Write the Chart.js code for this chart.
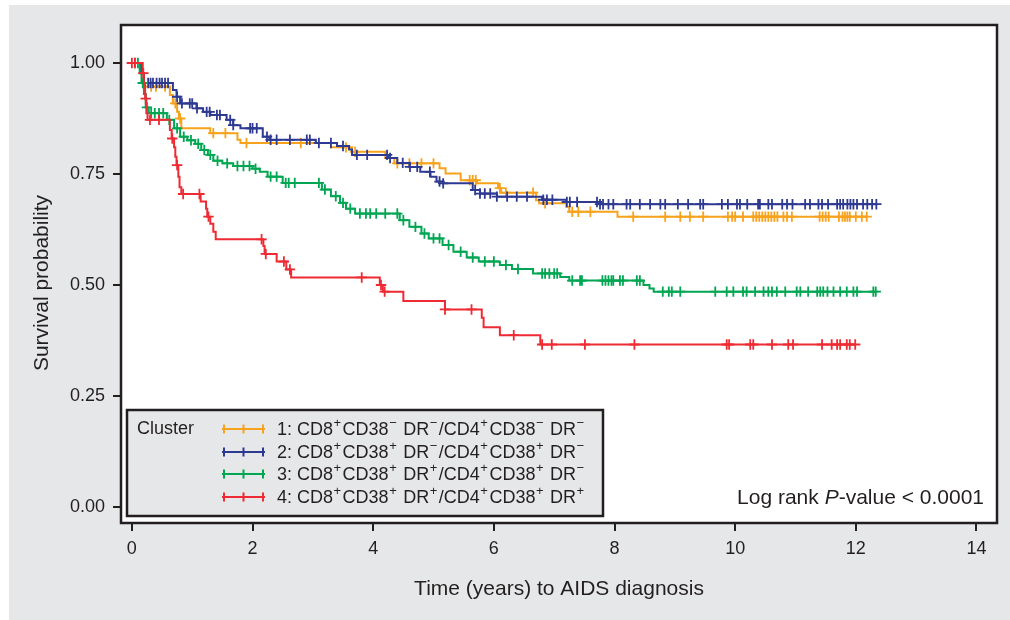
<!DOCTYPE html>
<html>
<head>
<meta charset="utf-8">
<title>Survival by cluster</title>
<script src="https://cdn.jsdelivr.net/npm/chart.js"></script>
<style>
  html, body { margin: 0; padding: 0; background: #ffffff; }
  canvas { display: block; }
</style>
</head>
<body>
<canvas id="myChart" width="1010" height="620"></canvas>
<script>
// Trục và nhãn
const xTicks = [0, 2, 4, 6, 8, 10, 12, 14];
const yTicks = [0, 0.25, 0.5, 0.75, 1.0];
const xTitle = "Time (years) to AIDS diagnosis";
const yTitle = "Survival probability";
const clusterLabels = [
  "1: CD8^+CD38^\u2212 DR^\u2212/CD4^+CD38^\u2212 DR^\u2212",
  "2: CD8^+CD38^+ DR^\u2212/CD4^+CD38^+ DR^\u2212",
  "3: CD8^+CD38^+ DR^+/CD4^+CD38^+ DR^\u2212",
  "4: CD8^+CD38^+ DR^+/CD4^+CD38^+ DR^+",
];
const clusterColors = ["#F7A21C", "#2E3A92", "#00A651", "#EE2A33"];

// Cluster 1 (cam)
const orangeTimes = [0.14, 0.20, 0.28, 0.63, 0.68, 0.75, 0.78, 0.82, 1.30, 1.75, 1.80, 3.30, 3.65, 4.20, 4.35, 5.10, 5.20, 5.45, 5.72, 6.07, 6.12, 6.70, 6.75, 7.20, 7.25, 8.05];
const orangeSurv = [0.977, 0.955, 0.947, 0.928, 0.909, 0.89, 0.875, 0.853, 0.842, 0.827, 0.82, 0.81, 0.80, 0.786, 0.774, 0.763, 0.751, 0.736, 0.729, 0.718, 0.708, 0.691, 0.684, 0.676, 0.665, 0.654];
const orangeCens = [0.32, 0.4, 0.55, 0.72, 0.8, 1.35, 1.55, 1.9, 2.8, 3.55, 3.7, 4.4, 4.6, 4.8, 5.0, 5.6, 5.65, 5.7, 6.1, 6.2, 6.65, 6.85, 7.3, 7.4, 7.6, 8.31, 8.84, 9.09, 9.25, 9.47, 9.88, 9.95, 10.0, 10.13, 10.3, 10.35, 10.4, 10.45, 10.5, 10.55, 10.6, 10.65, 10.7, 10.8, 10.86, 10.94, 11.4, 11.45, 11.5, 11.55, 11.72, 11.78, 11.82, 11.86, 11.9, 12.0, 12.1, 12.18];

// Cluster 2 (xanh dương)
const blueTimes = [0.15, 0.20, 0.68, 0.74, 0.80, 1.07, 1.18, 1.30, 1.57, 1.68, 1.80, 2.17, 2.28, 3.05, 3.40, 3.60, 3.65, 4.25, 4.40, 4.60, 4.78, 4.95, 5.05, 5.15, 5.65, 5.77, 6.05, 6.80, 7.20, 7.75];
const blueSurv = [0.977, 0.955, 0.939, 0.924, 0.909, 0.898, 0.89, 0.883, 0.872, 0.86, 0.853, 0.834, 0.827, 0.82, 0.813, 0.805, 0.793, 0.786, 0.775, 0.766, 0.755, 0.744, 0.733, 0.729, 0.714, 0.706, 0.699, 0.692, 0.687, 0.682];
const blueCens = [0.27, 0.31, 0.35, 0.41, 0.46, 0.5, 0.55, 0.6, 0.75, 0.83, 0.96, 1.0, 1.08, 1.24, 1.29, 1.41, 1.46, 1.63, 1.68, 1.96, 2.0, 2.07, 2.24, 2.3, 2.4, 2.62, 2.9, 2.95, 3.1, 3.3, 3.5, 3.73, 3.9, 4.23, 4.28, 4.49, 4.61, 4.73, 4.94, 5.1, 5.16, 5.69, 5.77, 5.85, 5.94, 6.05, 6.22, 6.38, 6.55, 6.82, 6.88, 6.97, 7.21, 7.26, 7.38, 7.71, 7.76, 7.81, 7.9, 7.98, 8.2, 8.26, 8.42, 8.59, 8.76, 8.84, 9.05, 9.22, 9.42, 9.47, 9.78, 9.88, 10.03, 10.08, 10.2, 10.38, 10.41, 10.55, 10.61, 10.78, 10.86, 10.95, 11.16, 11.24, 11.38, 11.44, 11.54, 11.69, 11.74, 11.79, 11.86, 11.91, 11.96, 12.02, 12.12, 12.19, 12.27, 12.34];

// Cluster 3 (xanh lá)
const greenTimes = [0.13, 0.16, 0.20, 0.23, 0.28, 0.58, 0.70, 0.80, 0.92, 1.05, 1.15, 1.26, 1.35, 1.50, 1.68, 2.00, 2.12, 2.25, 2.50, 3.15, 3.30, 3.45, 3.55, 3.70, 4.44, 4.60, 4.80, 4.92, 5.15, 5.33, 5.55, 5.75, 6.10, 6.30, 6.65, 7.10, 7.25, 8.48, 8.58, 8.65];
const greenSurv = [0.977, 0.955, 0.93, 0.90, 0.887, 0.872, 0.853, 0.834, 0.826, 0.818, 0.804, 0.793, 0.78, 0.774, 0.768, 0.762, 0.755, 0.744, 0.73, 0.715, 0.70, 0.685, 0.672, 0.661, 0.646, 0.631, 0.616, 0.605, 0.59, 0.575, 0.562, 0.553, 0.545, 0.536, 0.526, 0.518, 0.51, 0.50, 0.492, 0.485];
const greenCens = [0.05, 0.1, 0.18, 0.25, 0.32, 0.38, 0.45, 0.52, 0.62, 0.75, 0.86, 0.98, 1.1, 1.2, 1.3, 1.42, 1.58, 1.75, 1.85, 1.95, 2.05, 2.3, 2.4, 2.55, 2.6, 2.7, 3.1, 3.2, 3.38, 3.5, 3.62, 3.78, 3.88, 3.95, 4.05, 4.2, 4.4, 4.5, 4.7, 4.85, 5.0, 5.1, 5.25, 5.45, 5.65, 5.85, 6.0, 6.2, 6.4, 6.8, 6.85, 6.92, 7.0, 7.05, 7.3, 7.43, 7.46, 7.8, 7.85, 7.9, 7.95, 7.98, 8.09, 8.14, 8.37, 8.42, 8.8, 8.9, 8.95, 9.09, 9.67, 9.86, 9.97, 10.13, 10.19, 10.33, 10.47, 10.55, 10.61, 10.69, 10.83, 11.02, 11.08, 11.21, 11.36, 11.41, 11.46, 11.53, 11.63, 11.74, 11.85, 11.96, 12.02, 12.29, 12.33];

// Cluster 4 (đỏ)
const redTimes = [0.18, 0.20, 0.22, 0.24, 0.26, 0.63, 0.66, 0.70, 0.72, 0.74, 0.77, 0.79, 0.82, 1.14, 1.23, 1.25, 1.30, 1.35, 1.39, 2.18, 2.20, 2.40, 2.56, 2.64, 4.11, 4.16, 4.50, 5.19, 5.80, 5.83, 6.10, 6.77];
const redSurv = [0.977, 0.955, 0.92, 0.887, 0.872, 0.849, 0.83, 0.81, 0.789, 0.77, 0.744, 0.72, 0.705, 0.688, 0.672, 0.654, 0.638, 0.62, 0.603, 0.588, 0.57, 0.553, 0.535, 0.517, 0.5, 0.485, 0.464, 0.445, 0.426, 0.405, 0.387, 0.366];
const redCens = [0.0, 0.05, 0.19, 0.23, 0.3, 0.45, 0.67, 0.75, 0.85, 1.12, 1.27, 2.15, 2.22, 2.52, 2.62, 3.81, 4.13, 4.19, 5.19, 5.63, 6.33, 6.8, 6.96, 7.51, 8.33, 9.86, 9.9, 10.25, 10.3, 10.61, 10.88, 10.96, 11.44, 11.6, 11.69, 11.74, 11.85, 11.9, 11.99];

const FONT = '"Liberation Sans", Arial, Helvetica, sans-serif';
const INK = "#231f20";
const PANEL = "#e6e7e8";

// Ghép sự kiện + điểm kiểm duyệt thành một đường bậc thang Kaplan-Meier
function kmPoints(times, surv, cens) {
  const pts = [{ x: 0, y: 1, c: false }];
  times.forEach((t, i) => pts.push({ x: t, y: surv[i], c: false }));
  cens.forEach((t) => {
    let s = 1;
    times.forEach((et, i) => { if (et <= t) s = surv[i]; });
    pts.push({ x: t, y: s, c: true });
  });
  pts.sort((a, b) => a.x - b.x || (a.c ? 1 : -1));
  return pts;
}

function kmDataset(label, color, times, surv, cens) {
  return {
    label: label,
    data: kmPoints(times, surv, cens),
    stepped: "before",
    borderColor: color,
    backgroundColor: color,
    borderWidth: 2,
    pointStyle: "cross",
    pointRadius: (ctx) => (ctx.raw && ctx.raw.c ? 5.2 : 0),
    pointBorderWidth: 1.8,
    pointHoverRadius: 0,
    fill: false,
  };
}

// Vẽ chữ có chỉ số trên (^x)
function drawRich(ctx, text, x, y, size) {
  let cx = x;
  for (let i = 0; i < text.length; i++) {
    const ch = text[i];
    if (ch === "^") {
      const sup = text[++i];
      ctx.font = Math.round(size * 0.7) + "px " + FONT;
      ctx.fillText(sup, cx + 0.5, y - size * 0.38);
      cx += ctx.measureText(sup).width + 2;
    } else {
      ctx.font = size + "px " + FONT;
      ctx.fillText(ch, cx, y);
      cx += ctx.measureText(ch).width;
    }
  }
}

const decor = {
  id: "decor",
  beforeDraw(chart) {
    const ctx = chart.ctx;
    const a = chart.chartArea;
    ctx.save();
    ctx.fillStyle = "#ffffff";
    ctx.fillRect(0, 0, chart.width, chart.height);
    ctx.fillStyle = PANEL;
    ctx.fillRect(9, 5, chart.width - 9, chart.height - 5);
    ctx.fillStyle = "#ffffff";
    ctx.fillRect(a.left, a.top, a.right - a.left, a.bottom - a.top);
    ctx.restore();
  },
  afterDatasetsDraw(chart) {
    const ctx = chart.ctx;
    const a = chart.chartArea;
    ctx.save();
    // khung biểu đồ
    ctx.strokeStyle = INK;
    ctx.lineWidth = 2.5;
    ctx.strokeRect(a.left, a.top, a.right - a.left, a.bottom - a.top);

    // tiêu đề trục tung
    ctx.fillStyle = INK;
    ctx.font = "21px " + FONT;
    ctx.textAlign = "center";
    ctx.textBaseline = "middle";
    ctx.translate(42, 283);
    ctx.rotate(-Math.PI / 2);
    ctx.fillText(yTitle, 0, 0);
    ctx.setTransform(1, 0, 0, 1, 0, 0);

    // chú thích
    const lx = 127, ly = 410, lw = 476, lh = 106;
    ctx.fillStyle = PANEL;
    ctx.fillRect(lx, ly, lw, lh);
    ctx.lineWidth = 2.5;
    ctx.strokeRect(lx, ly, lw, lh);
    ctx.fillStyle = INK;
    ctx.textBaseline = "middle";
    ctx.textAlign = "left";
    ctx.font = "18px " + FONT;
    ctx.fillText("Cluster", 137, 429);
    const rows = [429, 452, 474, 497];
    clusterLabels.forEach((lab, i) => {
      const y = rows[i];
      ctx.strokeStyle = clusterColors[i];
      ctx.lineWidth = 2;
      ctx.beginPath();
      ctx.moveTo(222, y);
      ctx.lineTo(265, y);
      [224, 243.5, 263].forEach((tx) => {
        ctx.moveTo(tx, y - 4.5);
        ctx.lineTo(tx, y + 4.5);
      });
      ctx.stroke();
      ctx.fillStyle = INK;
      drawRich(ctx, lab, 277, y + 1, 18);
    });

    // log rank
    const size = 21;
    ctx.font = size + "px " + FONT;
    const p1 = "Log rank ", p3 = "-value < 0.0001";
    const w1 = ctx.measureText(p1).width, w3 = ctx.measureText(p3).width;
    ctx.font = "italic " + size + "px " + FONT;
    const w2 = ctx.measureText("P").width;
    const x0 = 984 - (w1 + w2 + w3);
    ctx.font = size + "px " + FONT;
    ctx.fillText(p1, x0, 498);
    ctx.font = "italic " + size + "px " + FONT;
    ctx.fillText("P", x0 + w1, 498);
    ctx.font = size + "px " + FONT;
    ctx.fillText(p3, x0 + w1 + w2, 498);
    ctx.restore();
  },
};

const data = {
  datasets: [
    kmDataset(clusterLabels[3], clusterColors[3], redTimes, redSurv, redCens),
    kmDataset(clusterLabels[2], clusterColors[2], greenTimes, greenSurv, greenCens),
    kmDataset(clusterLabels[1], clusterColors[1], blueTimes, blueSurv, blueCens),
    kmDataset(clusterLabels[0], clusterColors[0], orangeTimes, orangeSurv, orangeCens),
  ],
};

const config = {
  type: "line",
  data: data,
  options: {
    responsive: false,
    animation: false,
    devicePixelRatio: 1,
    layout: { padding: { left: 0, top: 25, right: 13, bottom: 0 } },
    plugins: {
      legend: { display: false },
      tooltip: { enabled: false },
    },
    scales: {
      x: {
        type: "linear",
        min: -0.18,
        max: 14.34,
        afterBuildTicks: (s) => { s.ticks = xTicks.map((v) => ({ value: v })); },
        afterFit: (s) => { s.height = 97; },
        border: { display: false },
        grid: { drawOnChartArea: false, tickLength: 8, color: INK, lineWidth: 2 },
        ticks: {
          color: INK,
          font: { family: FONT, size: 18 },
          padding: 7,
          maxRotation: 0,
          autoSkip: false,
          callback: (v) => String(v),
        },
        title: {
          display: true,
          text: xTitle,
          color: INK,
          font: { family: FONT, size: 21 },
          padding: { bottom: 18 },
        },
      },
      y: {
        type: "linear",
        min: -0.036,
        max: 1.0856,
        afterBuildTicks: (s) => { s.ticks = yTicks.map((v) => ({ value: v })); },
        afterFit: (s) => { s.width = 121; },
        border: { display: false },
        grid: { drawOnChartArea: false, tickLength: 8, color: INK, lineWidth: 2 },
        ticks: {
          color: INK,
          font: { family: FONT, size: 18 },
          padding: 8,
          callback: (v) => v.toFixed(2),
        },
        title: { display: false },
      },
    },
  },
  plugins: [decor],
};

// Vẽ biểu đồ lên canvas
const ctx = document.getElementById("myChart").getContext("2d");
new Chart(ctx, config);
</script>
</body>
</html>
